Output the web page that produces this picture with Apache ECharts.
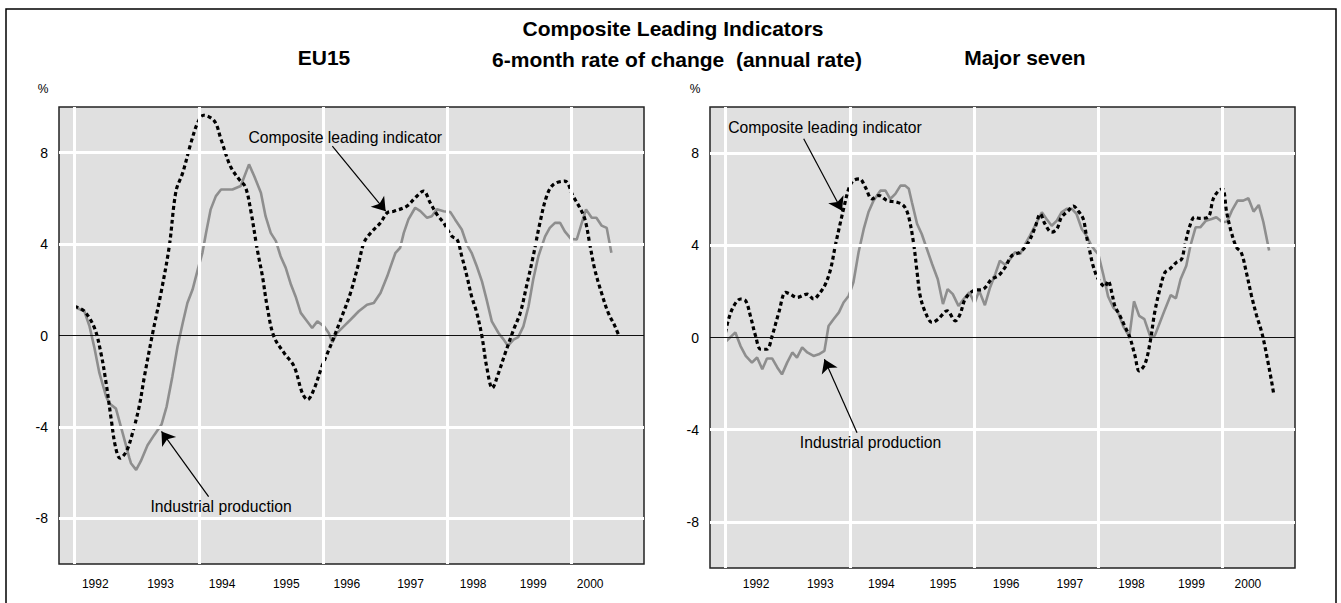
<!DOCTYPE html>
<html>
<head>
<meta charset="utf-8">
<script src="https://cdn.jsdelivr.net/npm/echarts@6/dist/echarts.min.js"></script>
<style>
  html, body { margin: 0; padding: 0; background: #fff; }
  #main { width: 1341px; height: 603px; }
</style>
</head>
<body>
<div id="main"></div>
<script>
// months counted from the first observation (both panels share the same time base)
// EU15 - composite leading indicator
const euCliMonths = [0, 1.9, 3.85, 5.1, 6.1, 7.1, 7.9, 8.8, 10, 11.2, 12.5, 13.5, 15.1, 16.7, 18.3, 19.6, 20.9, 22.5, 23.8, 24.9, 27, 28.3, 30.1, 31.8, 33, 34, 35.3, 36.3, 37.2, 38.5, 40.5, 42.4, 44, 45, 46.2, 47.8, 49.4, 51.4, 53.3, 54.9, 55.9, 57.2, 59.1, 60.4, 61.7, 64.2, 65.8, 67.4, 68.7, 70, 71.3, 72.9, 73.9, 74.8, 75.8, 76.7, 77.7, 78.7, 79.6, 80.7, 81.9, 83.2, 84.8, 86.1, 87.3, 88.6, 89.9, 91.2, 92.5, 94.7, 96.3, 97.6, 98.6, 99.6, 100.5, 101.8, 103.1, 104.4, 105.2];
const euCliValues = [1.28, 1.06, 0.33, -0.77, -2.08, -3.69, -4.86, -5.37, -5.08, -4.27, -3.1, -1.79, 0.11, 1.86, 3.9, 6.32, 7.12, 8.44, 9.32, 9.64, 9.39, 8.58, 7.41, 6.83, 6.5, 5.52, 3.76, 2.59, 1.28, -0.04, -0.77, -1.35, -2.52, -2.81, -2.38, -1.35, -0.48, 0.69, 1.86, 3.18, 4.06, 4.49, 4.93, 5.37, 5.44, 5.66, 6.03, 6.32, 5.81, 5.3, 4.93, 4.34, 4.2, 3.47, 2.59, 1.71, 0.99, -0.04, -1.35, -2.3, -1.64, -0.77, 0.25, 0.99, 2.15, 3.47, 4.93, 6.1, 6.61, 6.76, 6.1, 5.59, 5.08, 3.91, 2.88, 1.86, 0.99, 0.4, -0.04];
// EU15 - industrial production
const euIpMonths = [0, 1.9, 2.9, 3.85, 4.8, 6.1, 6.7, 8, 9.3, 10.6, 10.9, 11.9, 12.8, 14.1, 15.4, 16.8, 17.8, 18.9, 19.9, 20.9, 21.8, 22.8, 23.8, 24.7, 25.4, 26.3, 27.3, 28.3, 30.5, 32.1, 33.7, 34.7, 36, 36.9, 37.9, 38.9, 39.8, 40.8, 41.8, 42.7, 43.7, 44.7, 45.9, 46.9, 48.2, 49.1, 49.8, 50.7, 52, 53.3, 54.9, 56.5, 57.8, 59.1, 60.4, 61.3, 62, 62.9, 63.6, 64.5, 65.8, 66.8, 68.1, 69, 70, 71.3, 72.6, 73.5, 74.8, 75.8, 76.7, 77.7, 78.7, 79.6, 80.6, 81.9, 82.9, 83.7, 84.8, 85.7, 86.7, 87.7, 88.6, 89.6, 90.9, 91.8, 92.8, 93.8, 94.7, 95.9, 97, 97.9, 98.8, 99.9, 100.8, 101.8, 102.8, 103.7];
const euIpValues = [1.25, 1.06, 0.4, -0.55, -1.64, -2.67, -2.96, -3.2, -4.27, -5.37, -5.59, -5.88, -5.5, -4.8, -4.35, -3.9, -3.1, -1.79, -0.48, 0.55, 1.42, 2.01, 2.88, 3.62, 4.49, 5.52, 6.1, 6.39, 6.39, 6.54, 7.49, 6.98, 6.25, 5.22, 4.49, 4.13, 3.47, 2.96, 2.23, 1.71, 0.99, 0.69, 0.33, 0.62, 0.4, 0.11, -0.3, 0.11, 0.4, 0.69, 1.06, 1.35, 1.42, 1.86, 2.59, 3.18, 3.62, 3.84, 4.49, 5.08, 5.59, 5.44, 5.15, 5.22, 5.52, 5.44, 5.4, 5.08, 4.64, 3.98, 3.62, 3.03, 2.37, 1.57, 0.62, 0.11, -0.18, -0.45, -0.18, -0.07, 0.4, 1.28, 2.45, 3.47, 4.34, 4.71, 4.93, 4.93, 4.56, 4.23, 4.2, 4.86, 5.52, 5.15, 5.15, 4.81, 4.71, 3.62];
// Major seven - composite leading indicator
const g7CliMonths = [0, 0.6, 1.6, 2.9, 3.9, 4.8, 5.8, 6.8, 8, 9, 10.3, 11.6, 12.5, 13.8, 15.8, 17, 18.3, 19.3, 20.3, 21.2, 22.2, 22.8, 23.8, 24.7, 25.9, 27, 28.3, 29.6, 31.2, 33.1, 34.4, 35.3, 36.3, 37, 37.6, 38.6, 39.9, 41.1, 42.8, 44.4, 45.3, 46.3, 47.9, 49.8, 51.4, 52.7, 54, 55.3, 56.9, 58.5, 59.8, 60.8, 61.7, 63, 64, 64.9, 66.2, 67.2, 68.1, 69.1, 69.7, 70.4, 71, 72, 73.3, 73.9, 74.6, 75.2, 76.2, 77.1, 78.1, 79.1, 79.9, 81, 82, 82.9, 83.9, 84.9, 85.8, 87.1, 88.1, 88.7, 89.7, 90.6, 91.6, 93.2, 94.2, 95.1, 96, 96.8, 97.7, 98.7, 99.6, 100.6, 101.6, 102.6, 103.5, 104.1, 104.8, 105.4, 105.9];
const g7CliValues = [0.22, 0.8, 1.37, 1.67, 1.59, 0.94, 0.07, -0.51, -0.51, 0.07, 1.09, 1.96, 1.88, 1.74, 1.88, 1.67, 1.96, 2.32, 2.97, 3.98, 5, 5.58, 6.45, 6.81, 6.88, 6.52, 6.01, 6.16, 5.94, 5.87, 5.72, 5.3, 4.13, 2.83, 1.81, 1.09, 0.65, 0.8, 1.16, 0.72, 1.01, 1.67, 2.03, 2.1, 2.53, 2.68, 3.04, 3.55, 3.7, 4.13, 4.78, 5.36, 4.93, 4.57, 4.71, 5.22, 5.5, 5.7, 5.5, 5.14, 4.42, 3.7, 3.11, 2.53, 2.2, 2.46, 1.96, 1.37, 0.94, 0.5, 0, -0.8, -1.45, -1.16, -0.22, 1.09, 2.1, 2.83, 2.97, 3.26, 3.4, 3.98, 4.85, 5.22, 5.17, 5.22, 6.01, 6.33, 6.45, 5.43, 4.57, 3.91, 3.7, 2.83, 1.81, 0.94, 0.29, -0.29, -1.09, -1.81, -2.46];
// Major seven - industrial production
const g7IpMonths = [0, 1.9, 2.9, 3.9, 5.1, 6.1, 7.1, 8, 9, 10, 10.9, 11.9, 12.9, 13.8, 14.8, 15.8, 17, 18, 19.1, 19.9, 20.9, 21.9, 22.8, 23.8, 24.7, 25.7, 26.7, 27.6, 28.6, 29.9, 30.9, 31.8, 32.8, 33.8, 34.7, 35.4, 36, 37, 37.9, 38.9, 39.9, 41, 42, 42.9, 43.9, 45, 46, 47.1, 48.1, 49, 50.1, 51.1, 52.1, 53, 54, 55, 55.9, 56.9, 57.9, 58.8, 59.8, 61.1, 62, 63, 64, 64.9, 65.9, 66.9, 67.8, 68.8, 69.7, 70.7, 71.4, 72, 73, 73.9, 74.9, 75.8, 76.8, 78, 78.9, 79.9, 80.9, 82, 82.9, 83.9, 84.9, 86, 87, 87.9, 89, 89.8, 90.8, 91.7, 92.8, 93.9, 94.8, 96, 96.9, 97.8, 98.9, 100, 101, 102, 103, 103.9, 105];
const g7IpValues = [-0.19, 0.22, -0.37, -0.8, -1.09, -0.87, -1.38, -0.91, -0.91, -1.3, -1.6, -1.09, -0.65, -0.87, -0.43, -0.65, -0.8, -0.73, -0.58, 0.5, 0.8, 1.09, 1.52, 1.81, 2.39, 3.7, 4.71, 5.43, 5.94, 6.37, 6.37, 6.01, 6.23, 6.59, 6.59, 6.45, 5.87, 4.93, 4.49, 3.84, 3.19, 2.53, 1.45, 2.1, 1.88, 1.37, 1.67, 1.96, 1.49, 2.03, 1.4, 2.17, 2.75, 3.33, 3.16, 3.4, 3.7, 3.62, 4.06, 4.42, 4.85, 5.43, 5.14, 4.85, 5.07, 5.43, 5.58, 5.58, 5.36, 4.71, 4.42, 3.98, 3.77, 3.62, 2.7, 1.78, 1.3, 1.09, 0.5, 0.04, 1.57, 0.94, 0.8, 0.07, 0.07, 0.65, 1.23, 1.84, 1.7, 2.53, 3.11, 3.98, 4.78, 4.78, 5.07, 5.14, 5.22, 5, 5.03, 5.5, 5.94, 5.94, 6.04, 5.46, 5.75, 5, 3.77];

// axis labels
const yearLabels = ['1992', '1993', '1994', '1995', '1996', '1997', '1998', '1999', '2000'];
const euYearPos = [4.0, 16.6, 28.5, 40.9, 52.6, 64.9, 77.0, 88.6, 99.6];
const g7YearPos = [5.9, 18.3, 30.1, 42.0, 54.2, 66.5, 78.4, 90.0, 100.9];
const yTicks = [-8, -4, 0, 4, 8];
const gridMonths = [0, 24, 48, 72, 96];

const pairs = (xs, ys) => xs.map((x, i) => [x, ys[i]]);
const SANS = "'Liberation Sans', Arial, Helvetica, sans-serif";
const NARROW = "'Liberation Sans Narrow', 'Arial Narrow', " + SANS;

const chart = echarts.init(document.getElementById('main'), null, { renderer: 'svg' });

function xAxisFor(gi, labelPos, margin) {
  return {
    type: 'value', gridIndex: gi, min: -3, max: 110,
    axisLine: { show: false }, axisTick: { show: false }, splitLine: { show: false },
    axisLabel: {
      customValues: labelPos, margin: margin,
      color: '#000', fontSize: 12, fontFamily: NARROW,
      formatter: v => yearLabels[labelPos.indexOf(v)]
    }
  };
}
function yAxisFor(gi) {
  return {
    type: 'value', gridIndex: gi, min: -10, max: 10,
    axisLine: { show: false }, axisTick: { show: false }, splitLine: { show: false },
    axisLabel: { customValues: yTicks, margin: 11, color: '#000', fontSize: 14, fontFamily: NARROW }
  };
}

function panelSeries(gi, cliM, cliV, ipM, ipV, notes) {
  return [
    {
      type: 'line', xAxisIndex: gi, yAxisIndex: gi, data: [], z: 1, silent: true,
      markLine: {
        silent: true, symbol: ['none', 'none'], animation: false,
        label: { show: false },
        lineStyle: { color: '#fff', width: 3, type: 'solid' },
        data: [
          ...gridMonths.map(m => ({ xAxis: m })),
          ...yTicks.filter(v => v !== 0).map(v => ({ yAxis: v })),
          { yAxis: 0, lineStyle: { color: '#111', width: 1.2 } }
        ]
      }
    },
    {
      name: 'Industrial production', type: 'line', xAxisIndex: gi, yAxisIndex: gi, z: 3,
      data: pairs(ipM, ipV), showSymbol: false,
      lineStyle: { color: '#8e8e8e', width: 2.6 }
    },
    {
      name: 'Composite leading indicator', type: 'line', xAxisIndex: gi, yAxisIndex: gi, z: 4,
      data: pairs(cliM, cliV), showSymbol: false, smooth: 0.35,
      lineStyle: { color: '#000', width: 3.2, type: [4, 3], cap: 'butt' }
    },
    {
      type: 'line', xAxisIndex: gi, yAxisIndex: gi, data: [], z: 5, silent: true,
      markLine: {
        silent: true, symbol: ['none', 'arrow'], symbolSize: 13, animation: false,
        label: { show: false },
        lineStyle: { color: '#000', width: 1.2, type: 'solid' },
        data: notes.arrows.map(a => [{ coord: a[0] }, { coord: a[1] }])
      },
      markPoint: {
        silent: true, symbol: 'rect', symbolSize: 0, animation: false,
        label: { show: true, position: 'inside', formatter: '{b}', color: '#000', fontSize: 15.7, fontFamily: SANS },
        data: notes.texts.map(t => ({ name: t[0], coord: t[1] }))
      }
    }
  ];
}

const euNotes = {
  arrows: [[[49.8, 8.29], [60.1, 5.44]], [[25.9, -7.05], [16.8, -4.2]]],
  texts: [['Composite leading indicator', [52.3, 8.66]], ['Industrial production', [28.3, -7.49]]]
};
const g7Notes = {
  arrows: [[[15.1, 8.62], [22.5, 5.5]], [[25.4, -4.13], [19.1, -0.94]]],
  texts: [['Composite leading indicator', [19.2, 9.09]], ['Industrial production', [28.0, -4.57]]]
};

const titleFont = 'bold 21px ' + SANS;
const option = {
  animation: false,
  backgroundColor: '#fff',
  grid: [
    { left: 59, top: 107, width: 585, height: 457, show: true, backgroundColor: '#e0e0e0', borderColor: '#222', borderWidth: 1.5 },
    { left: 710, top: 107, width: 585, height: 461, show: true, backgroundColor: '#e0e0e0', borderColor: '#222', borderWidth: 1.5 }
  ],
  xAxis: [xAxisFor(0, euYearPos, 14), xAxisFor(1, g7YearPos, 10)],
  yAxis: [yAxisFor(0), yAxisFor(1)],
  series: [
    ...panelSeries(0, euCliMonths, euCliValues, euIpMonths, euIpValues, euNotes),
    ...panelSeries(1, g7CliMonths, g7CliValues, g7IpMonths, g7IpValues, g7Notes)
  ],
  graphic: [
    { type: 'rect', silent: true, shape: { x: 6, y: 9, width: 1330, height: 610 }, style: { fill: 'none', stroke: '#000', lineWidth: 1.5 } },
    { type: 'text', silent: true, style: { text: 'Composite Leading Indicators', x: 673, y: 28, align: 'center', verticalAlign: 'middle', font: titleFont, fill: '#000' } },
    { type: 'text', silent: true, style: { text: '6-month rate of change  (annual rate)', x: 677, y: 59, align: 'center', verticalAlign: 'middle', font: titleFont, fill: '#000' } },
    { type: 'text', silent: true, style: { text: 'EU15', x: 324, y: 57, align: 'center', verticalAlign: 'middle', font: titleFont, fill: '#000' } },
    { type: 'text', silent: true, style: { text: 'Major seven', x: 1025, y: 57, align: 'center', verticalAlign: 'middle', font: titleFont, fill: '#000' } },
    { type: 'text', silent: true, style: { text: '%', x: 43, y: 89, align: 'center', verticalAlign: 'middle', font: '12px ' + SANS, fill: '#000' } },
    { type: 'text', silent: true, style: { text: '%', x: 695, y: 89, align: 'center', verticalAlign: 'middle', font: '12px ' + SANS, fill: '#000' } }
  ]
};
chart.setOption(option);
</script>
</body>
</html>
